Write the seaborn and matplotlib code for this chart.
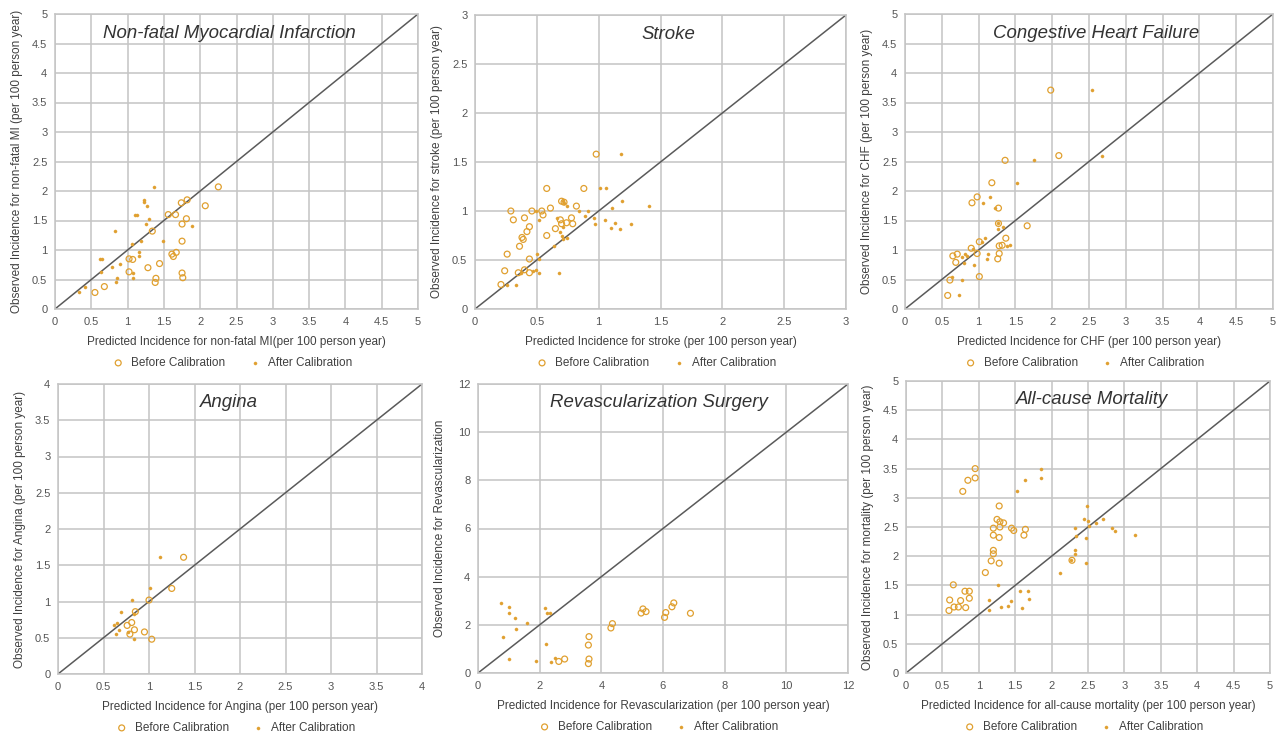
"""
Calibration plots: predicted vs observed incidence, before and after calibration.
"""

import pandas as pd
import matplotlib
matplotlib.use("Agg")
import matplotlib.pyplot as plt
import seaborn as sns

GOLD = "#E0A030"
GRID = "#C4C4C4"
DIAG = "#5A5A5A"
TEXT = "#404040"

# --- Non-fatal MI
MI_BEFORE_X = [2.25, 2.07, 1.82, 1.74, 1.56, 1.66, 1.81, 1.75, 1.34, 1.75, 1.67, 1.61,
               1.63, 1.02, 1.07, 1.44, 1.28, 1.02, 1.75, 1.76, 1.39, 1.38, 0.68, 0.55]
MI_BEFORE_Y = [2.07, 1.75, 1.85, 1.80, 1.60, 1.60, 1.53, 1.44, 1.32, 1.15, 0.96, 0.93,
               0.89, 0.85, 0.84, 0.77, 0.70, 0.63, 0.61, 0.53, 0.52, 0.45, 0.38, 0.28]
MI_AFTER_X = [1.37, 1.22, 1.22, 1.27, 1.10, 1.13, 1.29, 1.25, 0.82, 1.89, 1.49, 1.19, 1.06,
              1.16, 1.16, 0.62, 0.65, 0.90, 0.79, 0.63, 1.07, 0.85, 1.07, 0.84, 0.42, 0.33]
MI_AFTER_Y = [2.07, 1.85, 1.81, 1.75, 1.60, 1.60, 1.53, 1.44, 1.32, 1.40, 1.15, 1.15, 1.10,
              0.97, 0.89, 0.85, 0.84, 0.77, 0.71, 0.63, 0.61, 0.52, 0.53, 0.45, 0.38, 0.28]

# --- Stroke
STROKE_BEFORE_X = [0.98, 0.58, 0.88, 0.70, 0.72, 0.82, 0.29, 0.46, 0.54, 0.61, 0.55, 0.40,
                   0.31, 0.78, 0.69, 0.74, 0.79, 0.70, 0.44, 0.65, 0.42, 0.58, 0.38, 0.39,
                   0.36, 0.26, 0.44, 0.24, 0.40, 0.35, 0.44, 0.21]
STROKE_BEFORE_Y = [1.58, 1.23, 1.23, 1.10, 1.09, 1.05, 1.00, 1.00, 1.00, 1.03, 0.96, 0.93,
                   0.91, 0.93, 0.91, 0.88, 0.87, 0.87, 0.84, 0.82, 0.79, 0.75, 0.73, 0.71,
                   0.64, 0.56, 0.51, 0.39, 0.40, 0.37, 0.37, 0.25]
STROKE_AFTER_X = [1.18, 1.01, 1.06, 1.19, 1.41, 1.11, 0.84, 0.91, 0.49, 0.71, 0.72, 0.74,
                  0.89, 0.96, 1.05, 0.66, 0.52, 0.97, 1.13, 1.26, 1.10, 1.17, 0.71, 0.69,
                  0.70, 0.71, 0.74, 0.64, 0.50, 0.52, 0.49, 0.47, 0.37, 0.52, 0.68, 0.26, 0.33]
STROKE_AFTER_Y = [1.58, 1.23, 1.23, 1.10, 1.05, 1.03, 1.00, 1.00, 1.00, 1.10, 1.08, 1.05,
                  0.95, 0.93, 0.91, 0.93, 0.91, 0.87, 0.88, 0.87, 0.83, 0.82, 0.84, 0.79,
                  0.75, 0.71, 0.72, 0.64, 0.56, 0.51, 0.40, 0.39, 0.37, 0.37, 0.37, 0.25, 0.25]

# --- Congestive heart failure
CHF_BEFORE_X = [1.98, 2.09, 1.36, 1.18, 0.98, 0.91, 1.27, 1.27, 1.66, 1.37, 1.01, 1.32,
                1.28, 0.90, 0.98, 1.28, 0.71, 0.65, 0.69, 1.26, 1.01, 0.61, 0.58]
CHF_BEFORE_Y = [3.71, 2.60, 2.52, 2.14, 1.90, 1.80, 1.71, 1.45, 1.41, 1.20, 1.14, 1.08,
                1.07, 1.03, 0.94, 0.94, 0.93, 0.90, 0.79, 0.85, 0.55, 0.49, 0.23]
CHF_AFTER_X = [2.54, 2.68, 1.75, 1.52, 1.16, 1.06, 1.22, 1.26, 1.33, 1.27, 1.09, 1.04, 1.43,
               1.38, 0.92, 1.13, 0.82, 0.84, 0.78, 0.80, 1.12, 0.94, 0.64, 0.78, 0.74]
CHF_AFTER_Y = [3.71, 2.60, 2.52, 2.14, 1.90, 1.80, 1.71, 1.45, 1.39, 1.35, 1.20, 1.14, 1.08,
               1.07, 1.02, 0.94, 0.93, 0.90, 0.88, 0.78, 0.85, 0.74, 0.55, 0.49, 0.23]

# --- Angina
ANGINA_BEFORE_X = [1.38, 1.25, 1.00, 0.85, 0.81, 0.76, 0.84, 0.95, 0.79, 1.03]
ANGINA_BEFORE_Y = [1.61, 1.18, 1.02, 0.86, 0.71, 0.67, 0.61, 0.58, 0.55, 0.48]
ANGINA_AFTER_X = [1.12, 1.01, 0.81, 0.69, 0.84, 0.65, 0.62, 0.67, 0.77, 0.64, 0.83]
ANGINA_AFTER_Y = [1.61, 1.18, 1.02, 0.86, 0.83, 0.71, 0.67, 0.61, 0.58, 0.55, 0.48]

# --- Revascularization surgery
REVASC_BEFORE_X = [6.35, 6.29, 5.35, 5.45, 5.29, 6.09, 6.05, 6.89, 4.36, 4.31, 3.60, 3.58,
                   3.60, 3.58, 2.81, 2.62]
REVASC_BEFORE_Y = [2.91, 2.75, 2.66, 2.55, 2.49, 2.51, 2.31, 2.48, 2.05, 1.87, 1.51, 1.16,
                   0.58, 0.39, 0.58, 0.48]
REVASC_AFTER_X = [0.74, 1.01, 1.00, 1.19, 2.18, 2.23, 2.32, 1.59, 1.22, 0.80, 2.19, 1.01,
                  1.88, 2.50, 2.38]
REVASC_AFTER_Y = [2.92, 2.74, 2.51, 2.30, 2.70, 2.49, 2.49, 2.06, 1.84, 1.51, 1.20, 0.58,
                  0.50, 0.61, 0.44]

# --- All-cause mortality
MORT_BEFORE_X = [0.95, 0.95, 0.85, 0.78, 1.28, 1.25, 1.29, 1.34, 1.29, 1.20, 1.45, 1.48,
                 1.64, 1.20, 1.62, 1.28, 1.20, 1.20, 1.17, 1.28, 1.09, 0.65, 0.81, 0.87,
                 0.87, 0.60, 0.75, 0.66, 0.72, 0.82, 0.59, 2.28]
MORT_BEFORE_Y = [3.50, 3.34, 3.30, 3.11, 2.86, 2.63, 2.59, 2.57, 2.50, 2.48, 2.48, 2.44,
                 2.46, 2.36, 2.36, 2.32, 2.10, 2.04, 1.92, 1.88, 1.72, 1.51, 1.40, 1.40,
                 1.28, 1.25, 1.24, 1.13, 1.13, 1.12, 1.07, 1.93]
MORT_AFTER_X = [1.85, 1.85, 1.64, 1.52, 2.48, 2.44, 2.71, 2.50, 2.61, 2.52, 2.32, 2.83,
                2.87, 2.34, 3.15, 2.47, 2.32, 2.32, 2.26, 2.47, 2.12, 1.26, 1.67, 1.57,
                1.69, 1.14, 1.44, 1.30, 1.40, 1.59, 1.14]
MORT_AFTER_Y = [3.50, 3.34, 3.31, 3.11, 2.86, 2.63, 2.63, 2.60, 2.57, 2.51, 2.48, 2.48,
                2.44, 2.35, 2.36, 2.31, 2.10, 2.04, 1.93, 1.88, 1.72, 1.51, 1.41, 1.40,
                1.27, 1.25, 1.24, 1.13, 1.14, 1.12, 1.08]

PANELS = [
    dict(title="Non-fatal Myocardial Infarction", lim=5, step=0.5,
         xlabel="Predicted Incidence for non-fatal MI(per 100 person year)",
         ylabel="Observed Incidence for non-fatal MI (per 100 person year)",
         before=(MI_BEFORE_X, MI_BEFORE_Y), after=(MI_AFTER_X, MI_AFTER_Y),
         rect=(55, 14, 418, 309), title_x=0.48),
    dict(title="Stroke", lim=3, step=0.5,
         xlabel="Predicted Incidence for stroke (per 100 person year)",
         ylabel="Observed Incidence for stroke (per 100 person year)",
         before=(STROKE_BEFORE_X, STROKE_BEFORE_Y), after=(STROKE_AFTER_X, STROKE_AFTER_Y),
         rect=(475, 15, 846, 309), title_x=0.52),
    dict(title="Congestive Heart Failure", lim=5, step=0.5,
         xlabel="Predicted Incidence for CHF (per 100 person year)",
         ylabel="Observed Incidence for CHF (per 100 person year)",
         before=(CHF_BEFORE_X, CHF_BEFORE_Y), after=(CHF_AFTER_X, CHF_AFTER_Y),
         rect=(905, 14, 1273, 309), title_x=0.52),
    dict(title="Angina", lim=4, step=0.5,
         xlabel="Predicted Incidence for Angina (per 100 person year)",
         ylabel="Observed Incidence for Angina (per 100 person year)",
         before=(ANGINA_BEFORE_X, ANGINA_BEFORE_Y), after=(ANGINA_AFTER_X, ANGINA_AFTER_Y),
         rect=(58, 384, 422, 674), title_x=0.47),
    dict(title="Revascularization Surgery", lim=12, step=2,
         xlabel="Predicted Incidence for Revascularization (per 100 person year)",
         ylabel="Observed Incidence for Revascularization",
         before=(REVASC_BEFORE_X, REVASC_BEFORE_Y), after=(REVASC_AFTER_X, REVASC_AFTER_Y),
         rect=(478, 384, 848, 673), title_x=0.49),
    dict(title="All-cause Mortality", lim=5, step=0.5,
         xlabel="Predicted Incidence for all-cause mortality (per 100 person year)",
         ylabel="Observed Incidence for mortality (per 100 person year)",
         before=(MORT_BEFORE_X, MORT_BEFORE_Y), after=(MORT_AFTER_X, MORT_AFTER_Y),
         rect=(906, 381, 1270, 673), title_x=0.51),
]

W, H = 1287, 739

sns.set_theme(style="white")
plt.rcParams["font.family"] = ["Liberation Sans", "DejaVu Sans"]


def fmt_tick(v):
    return f"{v:g}"


def draw_panel(fig, p):
    x0, y0, x1, y1 = p["rect"]
    ax = fig.add_axes([x0 / W, 1 - y1 / H, (x1 - x0) / W, (y1 - y0) / H])
    lim = p["lim"]

    ticks = [i * p["step"] for i in range(int(round(lim / p["step"])) + 1)]
    ax.set_xlim(0, lim)
    ax.set_ylim(0, lim)
    ax.set_xticks(ticks)
    ax.set_yticks(ticks)
    ax.set_xticklabels([fmt_tick(t) for t in ticks])
    ax.set_yticklabels([fmt_tick(t) for t in ticks])
    ax.grid(True, color=GRID, linewidth=1.1)
    ax.set_axisbelow(True)
    for s in ax.spines.values():
        s.set_color(GRID)
        s.set_linewidth(1.1)
    ax.tick_params(axis="both", length=3.5, width=1.1, color=GRID,
                   labelsize=8, labelcolor="#555555", pad=2)

    ax.plot([0, lim], [0, lim], color=DIAG, linewidth=1.1, zorder=2)

    bx, by = p["before"]
    axx, ayy = p["after"]
    sns.scatterplot(x=bx, y=by, ax=ax, marker="o", s=18, facecolor="none",
                    edgecolor=GOLD, linewidth=0.9, label="Before Calibration", zorder=3)
    sns.scatterplot(x=axx, y=ayy, ax=ax, marker="o", s=5, color=GOLD,
                    edgecolor=GOLD, linewidth=0.3, label="After Calibration", zorder=3)

    ax.text(p["title_x"], 0.935, p["title"], transform=ax.transAxes, ha="center",
            va="center", fontsize=13.4, style="italic", color="#333333")

    hgt = y1 - y0
    wid = x1 - x0
    ax.set_xlabel(p["xlabel"], fontsize=8.5, color=TEXT)
    ax.set_ylabel(p["ylabel"], fontsize=8.5, color=TEXT)
    ax.xaxis.set_label_coords(0.5, -27 / hgt)
    ax.yaxis.set_label_coords(-32 / wid, 0.5)

    leg = ax.legend(loc="center", bbox_to_anchor=(0.48, -54 / hgt), ncol=2,
                    frameon=False, fontsize=8.5, handletextpad=0.1,
                    columnspacing=1.5, borderaxespad=0)
    for t in leg.get_texts():
        t.set_color(TEXT)
    return ax


fig = plt.figure(figsize=(W / 100, H / 100), dpi=100)
fig.patch.set_facecolor("white")
for panel in PANELS:
    draw_panel(fig, panel)

fig.savefig("out.png", dpi=100, facecolor="white")
